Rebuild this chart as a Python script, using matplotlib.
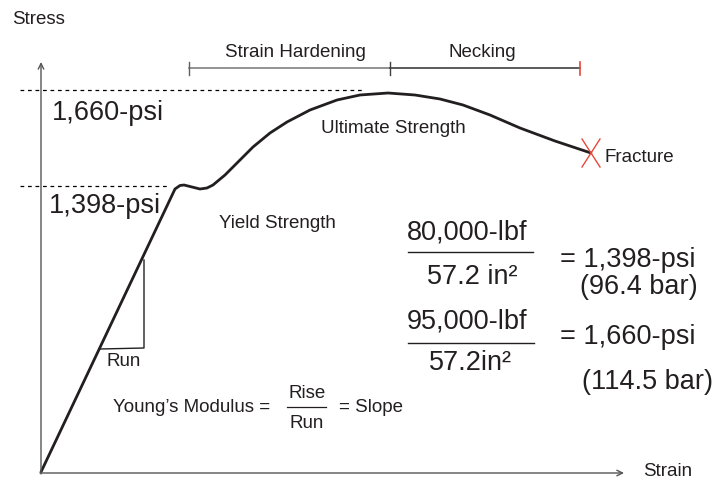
import matplotlib
matplotlib.use("Agg")
import matplotlib.pyplot as plt

plt.rcParams['font.family'] = ['Liberation Sans', 'DejaVu Sans']

# Stress-strain curve (diagram units: x = strain, y = stress, pixel-like scale, y downward)
strain = [41, 175, 180, 184, 192, 200, 207, 213, 225, 240, 253, 270, 287, 310, 337,
          360, 388, 415, 440, 463, 490, 520, 555, 591]
stress = [472, 189, 185.5, 185, 187, 189, 188, 185, 175, 160, 147, 133, 122, 110, 100,
          95, 93, 95, 99, 105, 115, 128, 141, 153]

yield_level = 186
ultimate_level = 90
fracture = (591, 153)

fig = plt.figure(figsize=(7.27, 4.79), dpi=100)
ax = fig.add_axes([0, 0, 1, 1])
ax.set_xlim(0, 727)
ax.set_ylim(479, 0)
ax.axis('off')

axis_col = '#555555'
# axes with arrows
ax.annotate('', xy=(41, 62), xytext=(41, 474),
            arrowprops=dict(arrowstyle='->', color=axis_col, lw=1.0, shrinkA=0, shrinkB=0,
                            mutation_scale=10))
ax.annotate('', xy=(624, 473), xytext=(40, 473),
            arrowprops=dict(arrowstyle='->', color=axis_col, lw=1.0, shrinkA=0, shrinkB=0,
                            mutation_scale=10))

# dashed reference lines
ax.plot([20, 365], [ultimate_level, ultimate_level], color='black', lw=0.9, ls=(0, (3, 3)))
ax.plot([20, 170], [yield_level, yield_level], color='black', lw=0.9, ls=(0, (3, 3)))

# curve
ax.plot(strain, stress, color='#231f20', lw=2.0, solid_capstyle='round', solid_joinstyle='round')

# fracture X
fx, fy = fracture
ax.plot([fx - 9, fx + 9], [fy - 14, fy + 14], color='#e8483a', lw=1.0)
ax.plot([fx - 9, fx + 9], [fy + 14, fy - 14], color='#e8483a', lw=1.0)

# bracket for strain hardening / necking
ax.plot([189, 390], [68, 68], color='#808080', lw=1.2)
ax.plot([390, 580], [68, 68], color='#404040', lw=1.2)
ax.plot([189, 189], [62, 75], color='#606060', lw=1.0)
ax.plot([390, 390], [62, 75], color='#404040', lw=1.0)
ax.plot([580, 580], [62, 75], color='#e8483a', lw=1.2)

# Run triangle
ax.plot([144, 144, 100], [260, 348, 349], color='#231f20', lw=1.0)

small = 13.5
big = 19.5
tc = '#231f20'
ax.text(12, 19, 'Stress', fontsize=small, color=tc, va='center', ha='left')
ax.text(643, 471, 'Strain', fontsize=small, color=tc, va='center', ha='left')
ax.text(295, 52, 'Strain Hardening', fontsize=small, color=tc, va='center', ha='center')
ax.text(482, 52, 'Necking', fontsize=small, color=tc, va='center', ha='center')
ax.text(393, 128, 'Ultimate Strength', fontsize=small, color=tc, va='center', ha='center')
ax.text(277, 223, 'Yield Strength', fontsize=small, color=tc, va='center', ha='center')
ax.text(604, 157, 'Fracture', fontsize=small, color=tc, va='center', ha='left')
ax.text(52, 113, '1,660-psi', fontsize=big, color=tc, va='center', ha='left')
ax.text(49, 206, '1,398-psi', fontsize=big, color=tc, va='center', ha='left')
ax.text(106, 362, 'Run', fontsize=small, color=tc, va='center', ha='left')

# Young's modulus
ax.text(113, 407, 'Young\u2019s Modulus =', fontsize=small, color=tc, va='center', ha='left')
ax.text(307, 394, 'Rise', fontsize=small, color=tc, va='center', ha='center')
ax.plot([287, 326], [407, 407], color=tc, lw=0.9)
ax.text(307, 423, 'Run', fontsize=small, color=tc, va='center', ha='center')
ax.text(339, 407, '= Slope', fontsize=small, color=tc, va='center', ha='left')

# fractions
ax.text(467, 232, '80,000-lbf', fontsize=big, color=tc, va='center', ha='center')
ax.plot([408, 533], [252, 252], color=tc, lw=1.0)
ax.text(472, 277, '57.2 in\u00b2', fontsize=big, color=tc, va='center', ha='center')
ax.text(560, 260, '= 1,398-psi', fontsize=big, color=tc, va='center', ha='left')
ax.text(580, 287, '(96.4 bar)', fontsize=big, color=tc, va='center', ha='left')

ax.text(467, 322, '95,000-lbf', fontsize=big, color=tc, va='center', ha='center')
ax.plot([408, 534], [343, 343], color=tc, lw=1.0)
ax.text(470, 363, '57.2in\u00b2', fontsize=big, color=tc, va='center', ha='center')
ax.text(560, 337, '= 1,660-psi', fontsize=big, color=tc, va='center', ha='left')
ax.text(582, 382, '(114.5 bar)', fontsize=big, color=tc, va='center', ha='left')

fig.savefig('out.png', dpi=100)
